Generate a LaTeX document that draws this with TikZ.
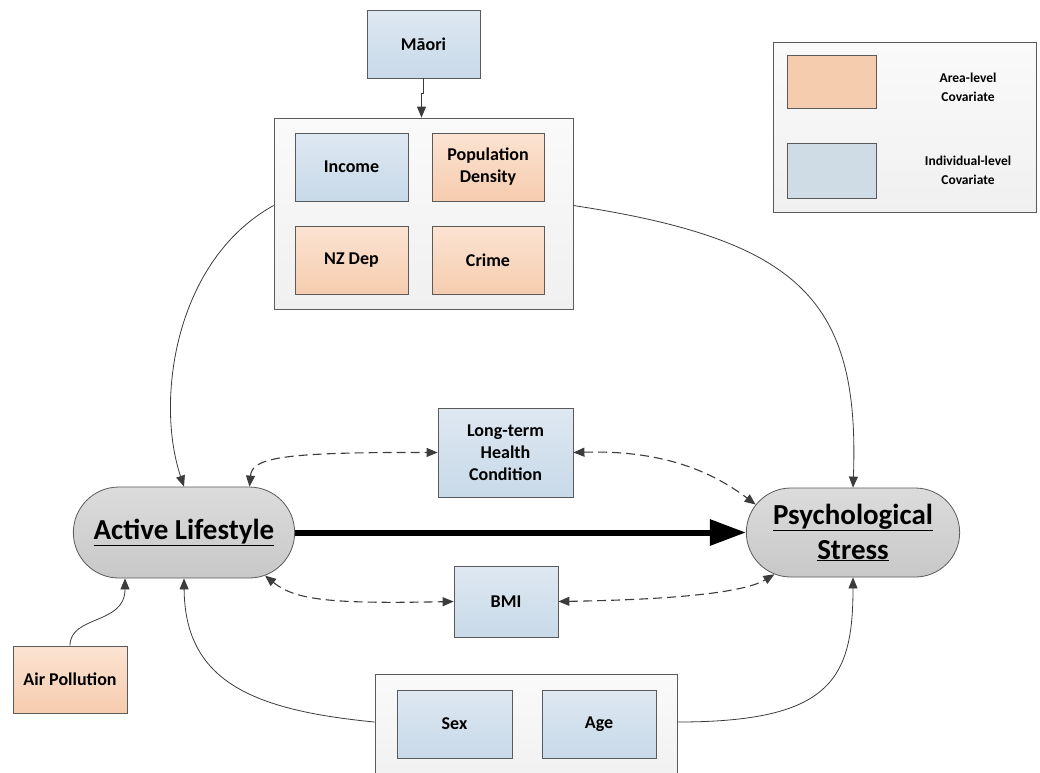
\documentclass[tikz,border=0pt]{standalone}
\usepackage{fontspec}
\setmainfont{Carlito}
\usetikzlibrary{arrows.meta,shapes.misc}
\definecolor{boxline}{HTML}{5A5A5A}
\definecolor{linkgray}{HTML}{3C3C3C}
\definecolor{bluetop}{HTML}{DEE8F2}
\definecolor{bluebot}{HTML}{C8D9E8}
\definecolor{legblue}{HTML}{CFDCE6}
\definecolor{orangetop}{HTML}{FBE3D2}
\definecolor{orangebot}{HTML}{F6CCAE}
\definecolor{grouptop}{HTML}{FAFAFA}
\definecolor{groupbot}{HTML}{F0F0F0}
\definecolor{pilltop}{HTML}{DCDCDC}
\definecolor{pillbot}{HTML}{C8C8C8}
\tikzset{
  covbox/.style={draw=boxline, line width=0.8pt, minimum width=113pt,
    minimum height=68pt, align=center, font=\fontsize{18}{22}\selectfont\bfseries},
  indiv/.style={covbox, top color=bluetop, bottom color=bluebot},
  area/.style={covbox, top color=orangetop, bottom color=orangebot},
  groupbox/.style={draw=boxline, line width=0.8pt, top color=grouptop, bottom color=groupbot},
  outcome/.style={rounded rectangle, draw=boxline, line width=0.8pt,
    top color=pilltop, bottom color=pillbot, align=center,
    font=\fontsize{29}{35}\selectfont\bfseries},
  link/.style={draw=linkgray, line width=0.8pt, -{Triangle[length=11pt,width=9pt]}},
  duallink/.style={draw=linkgray, line width=1.1pt, dash pattern=on 9pt off 5pt,
    {Triangle[length=11pt,width=9pt]}-{Triangle[length=11pt,width=9pt]}},
  legtext/.style={align=center, font=\fontsize{13.5}{19}\selectfont\bfseries},
}

\begin{document}
\begin{tikzpicture}[x=1pt,y=-1pt]
  \clip (0,0) rectangle (1040,772);

  % legend
  \node[groupbox, minimum width=263pt, minimum height=170pt] (legend) at (904.5,127) {};
  \node[covbox, fill=orangebot, minimum width=89pt, minimum height=53pt] (legarea) at (831.5,81.5) {};
  \node[covbox, fill=legblue, minimum width=89pt, minimum height=55pt] (legind) at (831.5,170.5) {};
  \node[legtext] (legareatext) at (968,87) {Area-level\\Covariate};
  \node[legtext] (legindtext) at (968,170) {Individual-level\\Covariate};

  % socio-economic group
  \node[indiv] (maori) at (423.5,44) {Māori};
  \node[groupbox, minimum width=299pt, minimum height=191pt] (ses) at (423.5,213.5) {};
  \node[indiv] (income) at (351.5,167) {Income};
  \node[area, minimum width=112pt] (popdens) at (488,167) {Population\\Density};
  \node[area] (nzdep) at (351.5,260.5) {NZ Dep};
  \node[area, minimum width=112pt] (crime) at (488,260.5) {Crime};

  % outcomes and mediators
  \node[outcome, minimum width=228pt, minimum height=91pt] (active) at (184,532.5) {\underline{Active Lifestyle}};
  \node[outcome, minimum width=220pt, minimum height=89pt] (stress) at (853,532.5) {\underline{Psychological}\\\underline{Stress}};
  \node[indiv, minimum width=135pt, minimum height=89pt] (health) at (505.5,452.5) {Long-term\\Health\\Condition};
  \node[indiv, minimum width=104pt, minimum height=71pt] (bmi) at (506,601.5) {BMI};
  \node[area, minimum width=114pt, minimum height=67pt] (airpol) at (70,679.5) {Air Pollution};

  % demographic group
  \node[groupbox, minimum width=302pt, minimum height=116pt] (demo) at (526,732) {};
  \node[indiv, minimum width=115pt] (sex) at (454.5,724) {Sex};
  \node[indiv, minimum width=114pt] (age) at (599,724) {Age};

  % connectors
  \draw[link] (maori.south) -- ++(0,15) -| ([xshift=-2pt]ses.north);
  \draw[link] ([yshift=8pt]ses.west) .. controls (175,260) and (155,400) .. (active.north);
  \draw[link] ([yshift=8pt]ses.east) .. controls (800,240) and (860,300) .. (stress.north);
  \draw[duallink] (active.35) .. controls (252,458) and (280,452) .. (health.west);
  \draw[duallink] (health.east) .. controls (660,450) and (710,470) .. (stress.164);
  \draw[duallink] (active.332) .. controls (295,600) and (330,604) .. (bmi.west);
  \draw[duallink] (bmi.east) .. controls (650,600) and (740,595) .. (stress.208);
  \draw[link] (airpol.north) .. controls (70,615) and (125,625) .. ([xshift=-59pt]active.south);
  \draw[link] ([yshift=10pt]demo.west) .. controls (250,710) and (185,680) .. (active.south);
  \draw[link] ([yshift=10pt]demo.east) .. controls (830,722) and (853,680) .. (stress.south);
  \draw[line width=6pt, -{Triangle[length=36pt,width=25pt]}] (active.east) -- (stress.west);
\end{tikzpicture}
\end{document}
